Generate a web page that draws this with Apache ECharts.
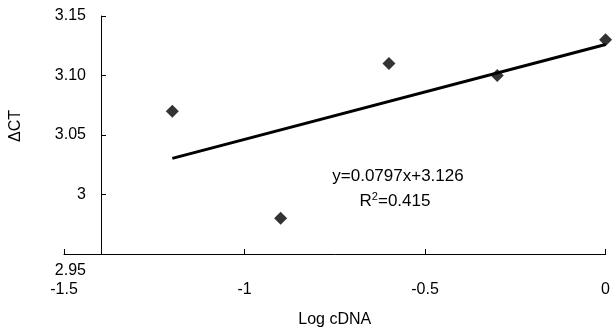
<!DOCTYPE html>
<html><head><meta charset="utf-8">
<script src="https://cdn.jsdelivr.net/npm/echarts@6/dist/echarts.min.js"></script>
<style>html,body{margin:0;padding:0;background:#fff}#c{width:613px;height:333px}</style>
</head><body><div id="c"></div>
<script>
const logCDNA = [-1.2, -0.9, -0.6, -0.3, 0];
const deltaCT = [3.07, 2.98, 3.11, 3.10, 3.13];
const trendSlope = 0.0797;
const trendIntercept = 3.126;
const trendX = [-1.2, 0];
const xTicks = [-1.5, -1, -0.5, 0];
const yTickLabels = {'2.95':'2.95','3':'3','3.05':'3.05','3.1':'3.10','3.15':'3.15'};
const eqText = 'y=0.0797x+3.126';
const r2Text = 'R{s|2}=0.415';

const font = 'Liberation Sans, Arial, sans-serif';
const chart = echarts.init(document.getElementById('c'));
chart.setOption({
  animation: false,
  grid: {left: 63, right: 7, top: 16, bottom: 76},
  xAxis: {
    type: 'value', min: -1.5, max: 0, interval: 0.5,
    name: 'Log cDNA', nameLocation: 'middle', nameGap: 58,
    nameTextStyle: {fontFamily: font, fontSize: 16, color: '#000'},
    axisLine: {onZero: false, lineStyle: {color: '#000', width: 1}},
    axisTick: {inside: true, length: 5, lineStyle: {color: '#000'}},
    axisLabel: {margin: 28, fontFamily: font, fontSize: 16, color: '#000',
      formatter: v => String(Math.round(v*10)/10)},
    splitLine: {show: false}
  },
  yAxis: {
    type: 'value', min: 2.95, max: 3.15, interval: 0.05,
    offset: -37,
    name: 'ΔCT', nameLocation: 'middle', nameGap: 77, nameRotate: 90,
    nameTextStyle: {fontFamily: font, fontSize: 16, color: '#000', padding: [0, 0, 0, 18]},
    axisLine: {show: true, onZero: false, lineStyle: {color: '#000', width: 1}},
    axisTick: {show: true, inside: true, length: 5, lineStyle: {color: '#000'}},
    axisLabel: {margin: 15, fontFamily: font, fontSize: 16, color: '#000',
      formatter: v => {
        const k = String(Math.round(v*100)/100);
        const t = yTickLabels[k] || k;
        return k === '2.95' ? '{b|' + t + '}' : t;
      },
      rich: {b: {fontFamily: font, fontSize: 16, color: '#000', padding: [34, 0, 0, 0]}}
    },
    splitLine: {show: false}
  },
  graphic: [
    {type: 'text', x: 398, y: 176, style: {text: eqText, font: '17px ' + font, fill: '#000',
      textAlign: 'center', textVerticalAlign: 'middle'}},
    {type: 'text', x: 395, y: 201, style: {text: r2Text, font: '17px ' + font, fill: '#000',
      textAlign: 'center', textVerticalAlign: 'middle',
      rich: {s: {fontSize: 11, verticalAlign: 'top', padding: [0,0,9,0], fontFamily: font, fill: '#000'}}}}
  ],
  series: [
    {type: 'line', data: trendX.map(x => [x, trendSlope*x + trendIntercept]),
     symbol: 'none', lineStyle: {color: '#000', width: 3}, z: 2},
    {type: 'scatter', data: logCDNA.map((x, i) => [x, deltaCT[i]]),
     symbol: 'diamond', symbolSize: [13, 13], itemStyle: {color: '#000'}, z: 3}
  ]
});
</script></body></html>
